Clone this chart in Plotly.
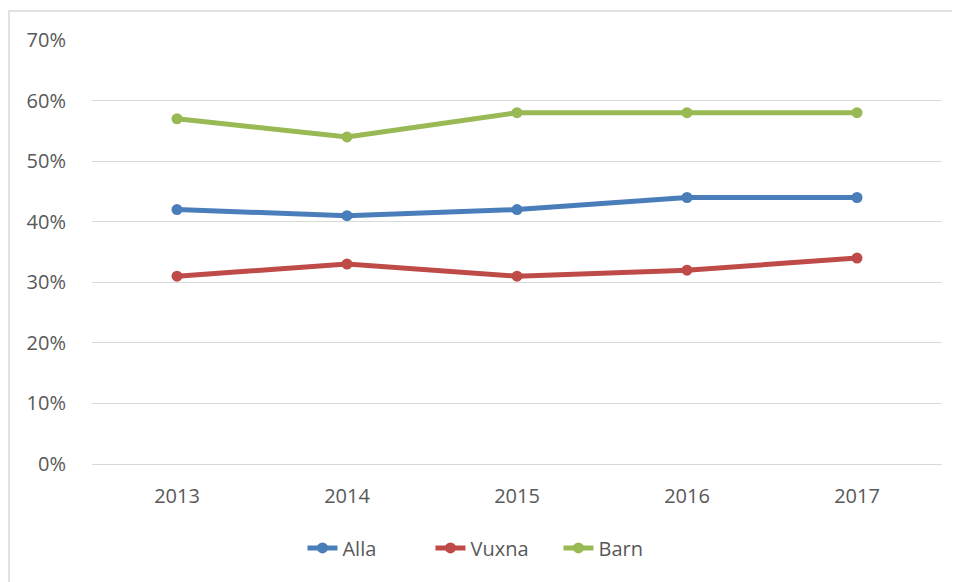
import plotly.graph_objects as go

years = ["2013", "2014", "2015", "2016", "2017"]
alla = [0.42, 0.41, 0.42, 0.44, 0.44]
vuxna = [0.31, 0.33, 0.31, 0.32, 0.34]
barn = [0.57, 0.54, 0.58, 0.58, 0.58]
y_ticks = [0, 0.1, 0.2, 0.3, 0.4, 0.5, 0.6, 0.7]

series = [("Alla", alla, "#4A7EBB"), ("Vuxna", vuxna, "#BE4B48"), ("Barn", barn, "#98B954")]

fig = go.Figure()
for name, vals, col in series:
    fig.add_trace(go.Scatter(
        x=years, y=vals, name=name, mode="lines+markers",
        line=dict(color=col, width=5),
        marker=dict(color=col, size=11),
    ))

fig.update_layout(
    width=952, height=574,
    margin=dict(l=84, r=18, t=32, b=118),
    paper_bgcolor="white", plot_bgcolor="white",
    font=dict(family="Open Sans", size=20, color="#595959"),
    showlegend=True,
    legend=dict(orientation="h", x=0.4735, xanchor="center", y=-0.198, yanchor="middle",
                font=dict(size=20, color="#595959"), itemwidth=30, tracegroupgap=0,
                entrywidth=83, entrywidthmode="pixels"),
    shapes=[dict(type="rect", xref="paper", yref="paper",
                 x0=(1 - 84) / 850, x1=1.05, y0=-0.3, y1=(456 - 3) / 424,
                 line=dict(color="#D9D9D9", width=1.5), layer="below")],
)
fig.update_xaxes(
    type="category", range=[-0.5, 4.5], showgrid=False,
    showline=True, linecolor="#D9D9D9", linewidth=1,
    ticks="outside", ticklen=14, tickcolor="rgba(0,0,0,0)",
    tickfont=dict(size=20),
)
fig.update_yaxes(
    range=[0, 0.7], tickvals=y_ticks, tickformat=".0%",
    showgrid=True, gridcolor="#D9D9D9", gridwidth=1,
    zeroline=False, showline=False,
    ticks="outside", ticklen=21, tickcolor="rgba(0,0,0,0)",
    tickfont=dict(size=20),
)

fig.write_html("out.html")
